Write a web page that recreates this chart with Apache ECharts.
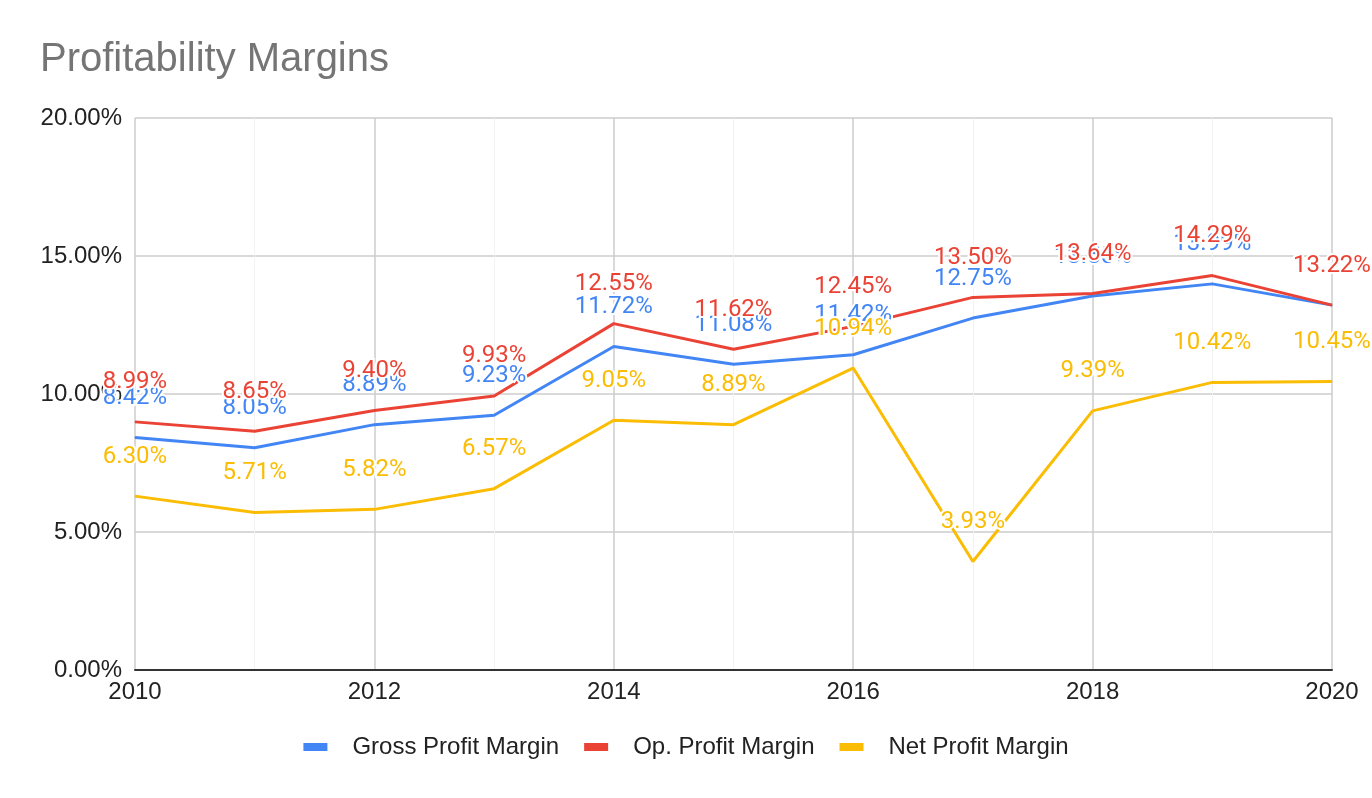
<!DOCTYPE html>
<html>
<head>
<meta charset="utf-8">
<script src="https://cdn.jsdelivr.net/npm/echarts@6/dist/echarts.min.js"></script>
<style>
html,body{margin:0;padding:0;background:#fff;}
#chart{width:1372px;height:798px;}
</style>
</head>
<body>
<div id="chart"></div>
<script>
const years = [2010, 2011, 2012, 2013, 2014, 2015, 2016, 2017, 2018, 2019, 2020];
const grossMargin = [8.42, 8.05, 8.89, 9.23, 11.72, 11.08, 11.42, 12.75, 13.55, 13.99, 13.22];
const opMargin = [8.99, 8.65, 9.40, 9.93, 12.55, 11.62, 12.45, 13.50, 13.64, 14.29, 13.22];
const netMargin = [6.30, 5.71, 5.82, 6.57, 9.05, 8.89, 10.94, 3.93, 9.39, 10.42, 10.45];
const yTicks = [0, 5, 10, 15, 20];
const seriesNames = ['Gross Profit Margin', 'Op. Profit Margin', 'Net Profit Margin'];
const seriesColors = ['#4285F4', '#EA4335', '#FBBC04'];

const chart = echarts.init(document.getElementById('chart'));
function mk(name, values, color) {
  return {
    name: name,
    type: 'line',
    data: years.map((y, i) => [y, values[i]]),
    symbol: 'circle',
    symbolSize: 1,
    showSymbol: true,
    lineStyle: { width: 3, color: color },
    itemStyle: { color: color },
    label: {
      show: true,
      position: 'top',
      distance: 27,
      color: color,
      fontFamily: 'Roboto',
      fontSize: 24,
      textBorderColor: '#fff',
      textBorderWidth: 4,
      formatter: p => p.value[1].toFixed(2) + '%'
    },
    emphasis: { disabled: true },
    animation: false
  };
}
chart.setOption({
  animation: false,
  title: {
    text: 'Profitability Margins',
    left: 35, top: 35,
    textStyle: { fontFamily: 'Liberation Sans', fontSize: 40, fontWeight: 'normal', color: '#757575' }
  },
  legend: {
    data: seriesNames,
    top: 730,
    left: 'center',
    icon: 'rect',
    itemWidth: 24,
    itemHeight: 8,
    itemGap: 25,
    textStyle: { fontFamily: 'Liberation Sans', fontSize: 24, color: '#222', padding: [0, 0, 0, 20] }
  },
  grid: { left: 135, right: 40, top: 118, bottom: 128 },
  xAxis: {
    type: 'value',
    min: years[0], max: years[years.length - 1], interval: 2,
    axisLine: { show: true, lineStyle: { color: '#333', width: 2 } },
    axisTick: { show: false },
    axisLabel: { fontFamily: 'Liberation Sans', fontSize: 24, color: '#222', margin: 10, formatter: v => String(v) },
    splitLine: { show: true, lineStyle: { color: '#cccccc', width: 1.5 } },
    minorTick: { show: false, splitNumber: 2 },
    minorSplitLine: { show: true, lineStyle: { color: '#f2f2f2', width: 1 } }
  },
  yAxis: {
    type: 'value',
    min: yTicks[0], max: yTicks[yTicks.length - 1], interval: 5,
    axisLine: { show: false },
    axisTick: { show: false },
    axisLabel: { fontFamily: 'Liberation Sans', fontSize: 24, color: '#222', margin: 13, formatter: v => v.toFixed(2) + '%' },
    splitLine: { show: true, lineStyle: { color: '#cccccc', width: 1.5 } }
  },
  series: [
    mk(seriesNames[0], grossMargin, seriesColors[0]),
    mk(seriesNames[1], opMargin, seriesColors[1]),
    mk(seriesNames[2], netMargin, seriesColors[2])
  ]
});
</script>
</body>
</html>
